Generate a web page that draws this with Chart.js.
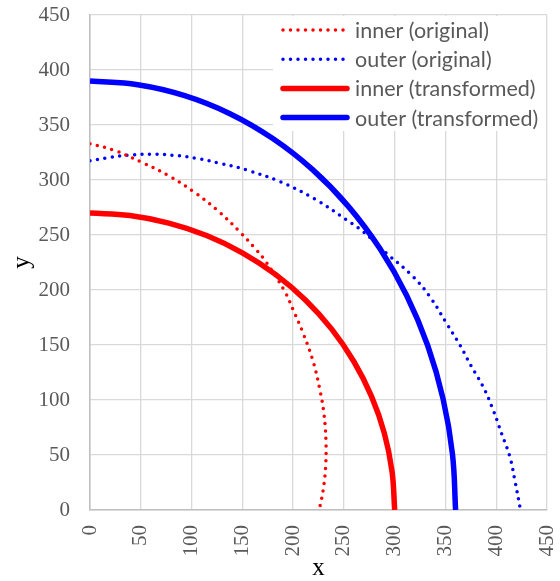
<!DOCTYPE html>
<html><head><meta charset="utf-8">
<script src="https://cdn.jsdelivr.net/npm/chart.js@4/dist/chart.umd.min.js"></script>
<style>html,body{margin:0;padding:0;background:#fff}#wrap{width:560px;height:581px}</style>
</head><body><div id="wrap"><canvas id="c" width="560" height="581"></canvas></div>
<script>
const seriesLabels = ['inner (original)', 'outer (original)', 'inner (transformed)', 'outer (transformed)'];

const innerOrigX = [0, 24.6, 51.9, 78, 103.3, 126.3, 147.6, 162.4, 172.2, 191.9, 200.1, 209.9, 219.8, 226.4, 230.3, 232.3, 232, 229.6, 225.7];
const innerOrigY = [333, 326.7, 315.7, 303.6, 288.5, 271.8, 252.7, 237.9, 227, 198.5, 181.8, 160.6, 134.8, 109, 87.9, 63.6, 39.4, 18.2, 0];

const outerOrigX = [0, 19.7, 39.4, 60.7, 82, 105, 128, 154.2, 187, 221.5, 252.7, 269, 292, 318.2, 334.6, 351.1, 364.2, 375.7, 387.1, 397, 405.2, 413.4, 418.3, 423.9];
const outerOrigY = [317.5, 320.6, 322.7, 323.4, 322.5, 319.7, 315.2, 309.1, 298.5, 282.7, 263.6, 253, 233.4, 212.1, 194, 169.7, 150, 130.3, 112.1, 90.9, 69.7, 48.5, 27.3, 0];

const innerTransX = [0, 39.2, 77.6, 114.8, 150, 182.6, 212.1, 238, 259.8, 277.2, 289.8, 297.4, 300];
const innerTransY = [270, 267.7, 260.8, 249.5, 233.8, 214.2, 190.9, 164.4, 135, 103.3, 69.9, 35.2, 0];

const outerTransX = [0, 47, 93.2, 137.8, 180, 219.2, 254.6, 285.6, 311.8, 332.6, 347.7, 356.9, 360];
const outerTransY = [390, 386.6, 376.7, 360.3, 337.7, 309.4, 275.8, 237.4, 195, 149.3, 100.9, 50.9, 0];

const xTickValues = [0, 50, 100, 150, 200, 250, 300, 350, 400, 450];
const yTickValues = [0, 50, 100, 150, 200, 250, 300, 350, 400, 450];

function pts(xs, ys) { return xs.map((x, i) => ({ x: x, y: ys[i] })); }

const RED = '#ff0000', BLUE = '#0000ff';

const legendPlugin = {
  id: 'boxLegend',
  afterDraw(chart) {
    const ctx = chart.ctx;
    const ca = chart.chartArea;
    const bx = 273, by = ca.top + 1, bw = ca.right - 1 - bx, bh = 131 - by;
    ctx.save();
    ctx.fillStyle = '#ffffff';
    ctx.fillRect(bx, by, bw, bh);
    chart.data.datasets.forEach((ds, i) => {
      const y = 30 + i * 29.2;
      ctx.beginPath();
      ctx.strokeStyle = ds.borderColor;
      ctx.lineWidth = ds.borderWidth;
      ctx.lineCap = 'round';
      ctx.setLineDash(ds.borderDash || []);
      ctx.moveTo(283, y);
      ctx.lineTo(ds.borderDash ? 346 : 347, y);
      ctx.stroke();
      ctx.setLineDash([]);
      ctx.fillStyle = '#595959';
      ctx.font = '21.5px Lato';
      ctx.textBaseline = 'middle';
      ctx.textAlign = 'left';
      ctx.fillText(ds.label, 355, y + 1);
    });
    ctx.restore();
  }
};

function zeroPad(s) { s.paddingTop = 0; s.paddingBottom = 0; s.paddingLeft = 0; s.paddingRight = 0; }

new Chart(document.getElementById('c'), {
  type: 'scatter',
  data: {
    datasets: [
      { label: seriesLabels[0], data: pts(innerOrigX, innerOrigY), showLine: true, borderColor: RED, borderWidth: 3.5, borderDash: [0, 7.5], borderCapStyle: 'round', pointRadius: 0, tension: 0.4, fill: false },
      { label: seriesLabels[1], data: pts(outerOrigX, outerOrigY), showLine: true, borderColor: BLUE, borderWidth: 3.5, borderDash: [0, 7.5], borderCapStyle: 'round', pointRadius: 0, tension: 0.4, fill: false },
      { label: seriesLabels[2], data: pts(innerTransX, innerTransY), showLine: true, borderColor: RED, borderWidth: 5.5, pointRadius: 0, tension: 0.4, fill: false },
      { label: seriesLabels[3], data: pts(outerTransX, outerTransY), showLine: true, borderColor: BLUE, borderWidth: 5.5, pointRadius: 0, tension: 0.4, fill: false }
    ]
  },
  options: {
    responsive: false,
    animation: false,
    devicePixelRatio: 1,
    layout: { padding: { top: 15, right: 13, left: 0, bottom: 0 } },
    plugins: { legend: { display: false }, tooltip: { enabled: false } },
    scales: {
      x: {
        type: 'linear', min: 0, max: 450,
        afterBuildTicks: s => { s.ticks = xTickValues.map(v => ({ value: v })); },
        afterFit: s => { s.height = 71; zeroPad(s); },
        ticks: { maxRotation: 90, minRotation: 90, padding: 15, color: '#595959', font: { family: 'Liberation Serif', size: 21 } },
        grid: { color: '#d9d9d9', lineWidth: 1.3, drawTicks: false },
        border: { color: '#bfbfbf', width: 1.5 },
        title: { display: true, text: 'x', color: '#000', font: { family: 'Liberation Serif', size: 25, lineHeight: 1 }, padding: { top: 0, bottom: 0 } }
      },
      y: {
        type: 'linear', min: 0, max: 450,
        afterBuildTicks: s => { s.ticks = yTickValues.map(v => ({ value: v })); },
        afterFit: s => { s.width = 90; zeroPad(s); },
        ticks: { padding: 20, color: '#595959', font: { family: 'Liberation Serif', size: 21 } },
        grid: { color: '#d9d9d9', lineWidth: 1.3, drawTicks: false },
        border: { color: '#bfbfbf', width: 1.5 },
        title: { display: true, text: 'y', color: '#000', font: { family: 'Liberation Serif', size: 25, lineHeight: 1 }, padding: { top: 10, bottom: 0 } }
      }
    }
  },
  plugins: [legendPlugin]
});
</script>
</body></html>
